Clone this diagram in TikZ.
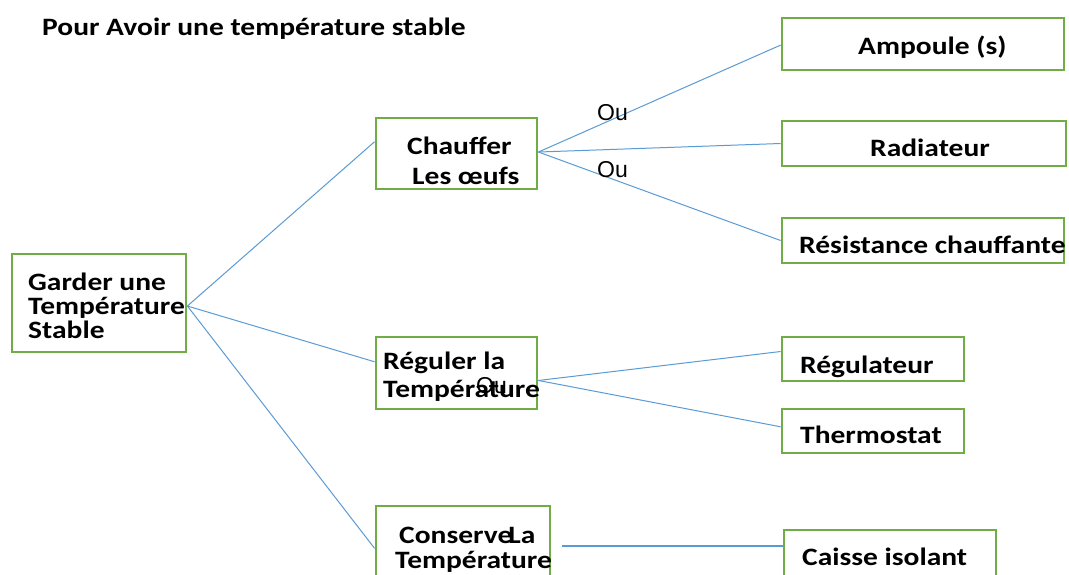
\documentclass[tikz,border=0pt]{standalone}
\usepackage{fontspec}
\usetikzlibrary{calc}
\newfontfamily\bfont{Carlito}[FakeStretch=1.18]
\newfontfamily\oufont{Liberation Sans}
\definecolor{boxgreen}{HTML}{70AD47}
\definecolor{linkblue}{HTML}{5B9BD5}
\tikzset{
  box/.style={draw=boxgreen, line width=2.8pt, inner sep=0pt, rectangle},
  lbl/.style={anchor=base west, inner sep=0pt, font=\bfont\bfseries\fontsize{25}{25}\selectfont},
  ou/.style={anchor=base west, inner sep=0pt, font=\oufont\fontsize{23}{23}\selectfont},
  link/.style={draw=linkblue, line width=1pt},
}
\begin{document}
\begin{tikzpicture}[x=1pt,y=-1pt]
\useasboundingbox[fill=white] (0,0) rectangle (1069,575);
\begin{scope}
\clip (0,0) rectangle (1069,575);
% boxes
\node[box, minimum width=174pt, minimum height=98pt] (garder) at (99,303) {};
\node[box, minimum width=161pt, minimum height=71pt] (chauffer) at (456.5,153.5) {};
\node[box, minimum width=161pt, minimum height=72pt] (reguler) at (456.5,373) {};
\node[box, minimum width=174pt, minimum height=74pt] (conserve) at (463,543) {};
\node[box, minimum width=282pt, minimum height=52pt] (ampoule) at (923,44) {};
\node[box, minimum width=284pt, minimum height=45pt] (radiateur) at (924,143.5) {};
\node[box, minimum width=282pt, minimum height=45pt] (resistance) at (923,240.5) {};
\node[box, minimum width=182pt, minimum height=44pt] (regulateur) at (873,359) {};
\node[box, minimum width=182pt, minimum height=44pt] (thermostat) at (873,431) {};
\node[box, minimum width=212pt, minimum height=50pt] (caisse) at (890,555) {};
% connectors
\draw[link] ($(garder.north east)!0.53!(garder.south east)$) -- ($(chauffer.north west)!0.34!(chauffer.south west)$);
\draw[link] ($(garder.north east)!0.53!(garder.south east)$) -- ($(reguler.north west)!0.35!(reguler.south west)$);
\draw[link] ($(garder.north east)!0.53!(garder.south east)$) -- ($(conserve.north west)!0.57!(conserve.south west)$);
\draw[link] ($(chauffer.north east)!0.48!(chauffer.south east)$) -- ($(ampoule.north west)!0.52!(ampoule.south west)$);
\draw[link] ($(chauffer.north east)!0.48!(chauffer.south east)$) -- (radiateur.west);
\draw[link] ($(chauffer.north east)!0.48!(chauffer.south east)$) -- (resistance.west);
\draw[link] ($(reguler.north east)!0.6!(reguler.south east)$) -- ($(regulateur.north west)!0.34!(regulateur.south west)$);
\draw[link] ($(reguler.north east)!0.6!(reguler.south east)$) -- ($(thermostat.north west)!0.41!(thermostat.south west)$);
\draw[link, line width=1.5pt] ([xshift=11pt,yshift=-3pt]conserve.east) coordinate (cs) -- (cs -| caisse.west);
% texts
\node[lbl] (title) at (42,36) {Pour Avoir une température stable};
\node[lbl] (g1) at (28,290) {Garder une};
\node[lbl] (g2) at (28,314) {Température};
\node[lbl] (g3) at (28,338) {Stable};
\node[lbl] (c1) at (407,155) {Chauffer};
\node[lbl] (c2) at (412,185) {Les œufs};
\node[lbl] (r1) at (383,369) {Réguler la};
\node[lbl] (r2) at (383,397) {Température};
\node[lbl] (k1) at (399,543) {Conserve\kern-4pt La};
\node[lbl] (k2) at (395,568) {Température};
\node[lbl] (t1) at (858,55) {Ampoule (s)};
\node[lbl] (t2) at (870,157) {Radiateur};
\node[lbl] (t3) at (799,253) {Résistance chauffante};
\node[lbl] (t4) at (800,373) {Régulateur};
\node[lbl] (t5) at (800,443) {Thermostat};
\node[lbl] (t6) at (802,565) {Caisse isolant};
\node[ou] (ou1) at (597,121) {Ou};
\node[ou] (ou2) at (597,178) {Ou};
\node[ou] (ou3) at (476,393) {Ou};
\end{scope}
\end{tikzpicture}
\end{document}
